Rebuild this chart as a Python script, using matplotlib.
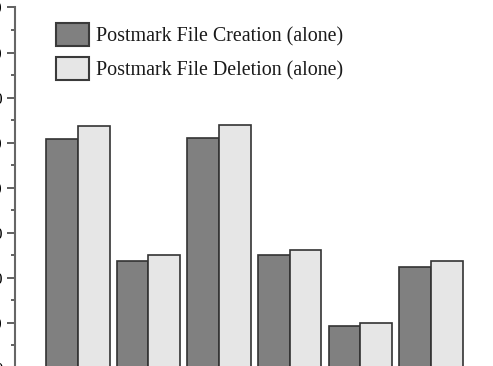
import matplotlib
matplotlib.use("Agg")
import matplotlib.pyplot as plt
import numpy as np

groups = ["1", "2", "3", "4", "5", "6"]
creation = [50.9, 23.7, 51.1, 25.0, 9.3, 22.5]
deletion = [53.8, 25.0, 54.0, 26.2, 9.9, 23.7]
yticks = [0, 10, 20, 30, 40, 50, 60, 70, 80]
series_labels = ["Postmark File Creation (alone)", "Postmark File Deletion (alone)"]

plt.rcParams['font.family'] = ['Liberation Serif', 'DejaVu Serif']

W, H = 493, 366
fig = plt.figure(figsize=(W / 100, H / 100), dpi=100)
left_px, right_px, top_px, bottom_px = 15, 493, 7.5, 368
ax = fig.add_axes([left_px / W, (H - bottom_px) / H, (right_px - left_px) / W, (bottom_px - top_px) / H])

x = np.arange(len(groups))
bw = 0.45
ax.bar(x - bw / 2, creation, bw, color="#808080", edgecolor="#333333", linewidth=1.2, label=series_labels[0])
ax.bar(x + bw / 2, deletion, bw, color="#e6e6e6", edgecolor="#333333", linewidth=1.2, label=series_labels[1])

ax.set_xlim(-0.888, 5.878)
ax.set_ylim(0, 80)
ax.set_yticks(yticks)
ax.set_yticklabels([str(v) for v in yticks], fontsize=12)
ax.set_yticks(np.arange(5, 80, 10), minor=True)
ax.tick_params(axis='y', which='major', direction='out', length=6, width=1.2, color="#444444", pad=3)
ax.tick_params(axis='y', which='minor', direction='out', length=3, width=1.2, color="#444444")
ax.set_xticks([])
for s in ['top', 'right', 'bottom']:
    ax.spines[s].set_visible(False)
ax.spines['left'].set_color("#666666")
ax.spines['left'].set_linewidth(1.5)

leg = ax.legend(loc='upper left', bbox_to_anchor=(56 / W, 1 - 22.5 / H), bbox_transform=fig.transFigure,
                frameon=False, fontsize=14.4, handlelength=1.65, handleheight=1.45,
                handletextpad=0.35, labelspacing=0.52, borderpad=0, borderaxespad=0)
for t in leg.get_texts():
    t.set_color("#1a1a1a")
for p in leg.get_patches():
    p.set_linewidth(1.5)
    p.set_edgecolor("#3a3a3a")

fig.savefig("out.png", dpi=100)
